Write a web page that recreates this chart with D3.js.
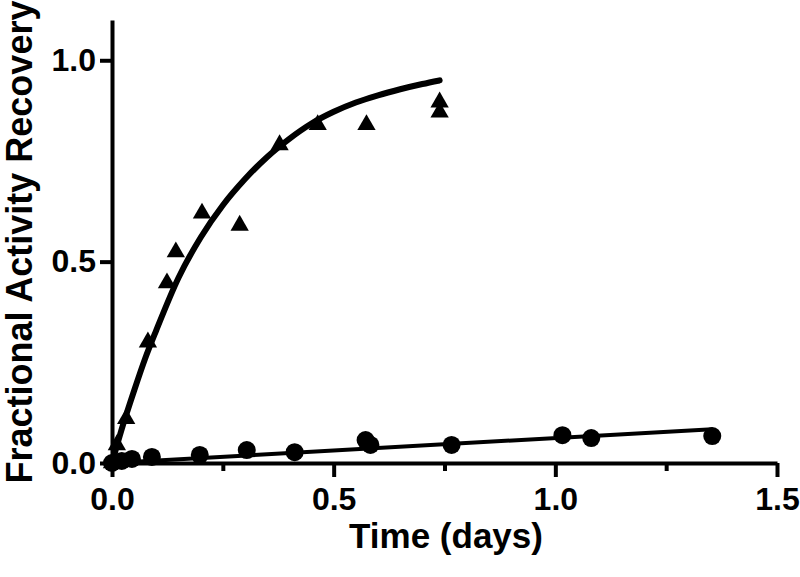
<!DOCTYPE html>
<html>
<head>
<meta charset="utf-8">
<script src="https://cdn.jsdelivr.net/npm/d3@7"></script>
<style>
  body { margin: 0; background: #fff; }
  svg { display: block; }
  .axis text { font-family: "Liberation Sans", Arial, sans-serif; font-weight: bold; font-size: 32px; fill: #000; }
  .title { font-family: "Liberation Sans", Arial, sans-serif; font-weight: bold; font-size: 35px; fill: #000; }
</style>
</head>
<body>
<div class="svgcontainer"></div>
<script>
// triangles (fast recovery)
const triTime = [0, 0.011, 0.032, 0.081, 0.124, 0.144, 0.203, 0.288, 0.378, 0.464, 0.574, 0.739, 0.739];
const triValue = [0.0, 0.045, 0.11, 0.30, 0.447, 0.524, 0.62, 0.59, 0.79, 0.84, 0.84, 0.896, 0.871];

// circles (slow recovery)
const circTime = [0, 0.022, 0.045, 0.09, 0.198, 0.304, 0.412, 0.572, 0.583, 0.766, 1.016, 1.081, 1.354];
const circValue = [0.0, 0.005, 0.01, 0.015, 0.02, 0.032, 0.027, 0.057, 0.045, 0.045, 0.069, 0.062, 0.067];

// fitted curve for triangles
const fitTriTime = [0, 0.025, 0.05, 0.075, 0.1, 0.15, 0.2, 0.25, 0.3, 0.35, 0.4, 0.45, 0.5, 0.55, 0.6, 0.65, 0.7, 0.739];
const fitTriValue = [0.0, 0.095, 0.18, 0.26, 0.33, 0.46, 0.56, 0.64, 0.705, 0.76, 0.805, 0.843, 0.872, 0.895, 0.913, 0.928, 0.941, 0.95];

// fitted line for circles
const fitCircTime = [0, 1.354];
const fitCircValue = [0.0, 0.084];

const xTicks = [0, 0.5, 1.0, 1.5];
const xMinorTicks = [0.25, 0.75, 1.25];
const yTicks = [0, 0.5, 1.0];

function drawChart() {
    const W = 800, H = 577;

    const svg = d3.select('.svgcontainer')
        .append('svg')
        .attr('width', W)
        .attr('height', H);

    const x = d3.scaleLinear().domain([0, 1.5]).range([112, 777]);
    const y = d3.scaleLinear().domain([0, 1.1]).range([463, 20]);

    // x axis: minor ticks first, then major ticks with labels
    const gxMinor = svg.append('g')
        .attr('class', 'axis')
        .attr('transform', `translate(0, ${y(0)})`)
        .call(d3.axisBottom(x).tickValues(xMinorTicks).tickSize(8).tickSizeOuter(0).tickFormat(''));
    gxMinor.select('.domain').remove();

    const gx = svg.append('g')
        .attr('class', 'axis')
        .attr('transform', `translate(0, ${y(0)})`)
        .call(d3.axisBottom(x).tickValues(xTicks).tickSize(14).tickSizeOuter(0).tickPadding(10)
            .tickFormat(d3.format('.1f')));

    const gy = svg.append('g')
        .attr('class', 'axis')
        .attr('transform', `translate(${x(0)}, 0)`)
        .call(d3.axisLeft(y).tickValues(yTicks).tickSize(12).tickSizeOuter(0).tickPadding(4)
            .tickFormat(d3.format('.1f')));

    svg.selectAll('.axis path, .axis line')
        .attr('stroke', '#000')
        .attr('stroke-width', 4);

    // fit curves
    const line = d3.line()
        .x(d => x(d[0]))
        .y(d => y(d[1]))
        .curve(d3.curveMonotoneX);

    svg.append('path')
        .datum(fitTriTime.map((t, i) => [t, fitTriValue[i]]))
        .attr('fill', 'none')
        .attr('stroke', '#000')
        .attr('stroke-width', 6)
        .attr('stroke-linecap', 'round')
        .attr('d', line);

    svg.append('path')
        .datum(fitCircTime.map((t, i) => [t, fitCircValue[i]]))
        .attr('fill', 'none')
        .attr('stroke', '#000')
        .attr('stroke-width', 4)
        .attr('d', line);

    // triangle markers
    svg.selectAll('.tri')
        .data(triTime.map((t, i) => [t, triValue[i]]))
        .enter()
        .append('path')
        .attr('class', 'tri')
        .attr('d', d3.symbol().type(d3.symbolTriangle).size(145))
        .attr('transform', d => `translate(${x(d[0])}, ${y(d[1])})`)
        .attr('fill', '#000');

    // circle markers
    svg.selectAll('.circ')
        .data(circTime.map((t, i) => [t, circValue[i]]))
        .enter()
        .append('circle')
        .attr('class', 'circ')
        .attr('cx', d => x(d[0]))
        .attr('cy', d => y(d[1]))
        .attr('r', 9)
        .attr('fill', '#000');

    // axis titles
    svg.append('text')
        .attr('class', 'title')
        .attr('x', 446)
        .attr('y', 548)
        .attr('text-anchor', 'middle')
        .text('Time (days)');

    svg.append('text')
        .attr('class', 'title')
        .attr('transform', 'translate(32, 242) rotate(-90)')
        .attr('text-anchor', 'middle')
        .style('font-size', '36px')
        .text('Fractional Activity Recovery');
}

drawChart();
</script>
</body>
</html>
